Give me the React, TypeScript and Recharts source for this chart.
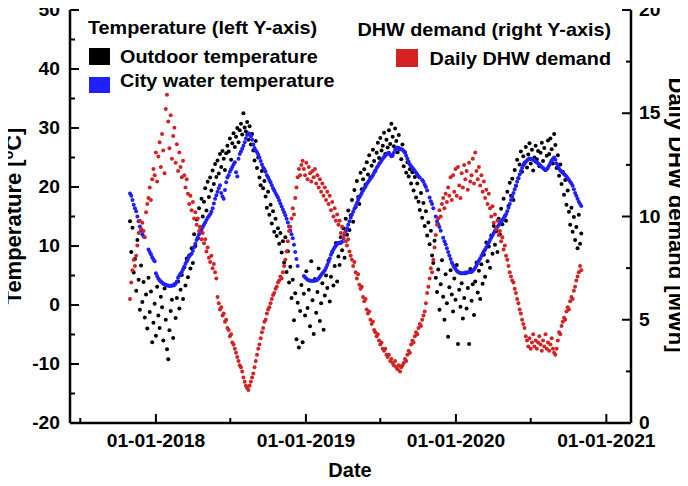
import React from 'react';
import { ScatterChart, Scatter, XAxis, YAxis } from 'recharts';

// Dates: day offsets from 01-01-2018; one reading every 3 days from 30-10-2017
const START_DAY = -63;
const STEP_DAYS = 3;

const outdoorTemp: (number | null)[] = [
  14.2, 9.0, 13.1, 5.5, 7.8, 2.4, 11.0, 4.3, -0.8, 6.7,
  0.5, 3.9, -2.1, 1.8, -4.0, 4.6, -1.2, 2.3, -6.3, -3.0,
  0.2, -5.2, 3.1, -1.8, -3.9, 1.4, -0.4, -6.0, 2.8, -2.5,
  -7.5, -9.2, -4.3, -1.0, 0.9, -5.6, 3.5, -2.2, 1.2, 4.0,
  -0.6, 2.6, 5.1, 1.0, 6.4, 3.3, 7.9, 4.7, 8.4, 6.2,
  9.6, 7.1, 12.0, 10.0, 14.5, 11.3, 16.4, 13.2, 18.0, 15.0,
  17.5, 19.8, 16.0, 20.9, 18.3, 21.6, 19.4, 22.8, 20.5, 23.9,
  21.7, 24.5, 22.3, 25.6, 23.4, 26.1, 24.8, 22.9, 25.7, 27.0,
  26.0, 28.2, 24.6, 27.4, 29.1, 26.8, 28.5, 30.0, 27.6, 29.6,
  30.7, 28.9, 32.5, 30.1, 29.4, 31.0, 28.0, 30.3, 27.2, 29.0,
  26.2, 24.5, 27.8, 23.2, 25.0, 21.6, 20.3, 22.7, 19.8, 21.0,
  18.4, 16.5, 19.2, 15.3, 17.0, 13.8, 15.9, 12.4, 14.6, 11.7,
  13.0, 10.4, 12.2, 8.9, 10.8, 7.2, 11.5, 5.6, 9.1, 3.8,
  6.5, 1.2, 4.3, -2.6, 2.0, -5.8, 0.4, -7.2, -1.0, 3.4,
  -6.3, 1.9, -1.8, 5.7, -0.5, 2.6, -3.6, 7.4, 0.8, -4.9,
  4.4, -1.3, 2.2, 6.2, -2.7, 0.3, 3.7, -4.2, 1.6, 5.0,
  2.9, 7.5, 0.6, 4.8, 9.0, 3.3, 6.6, 10.5, 4.0, 8.2,
  6.8, 11.5, 9.3, 13.0, 8.0, 14.6, 11.9, 16.0, 12.7, 15.2,
  17.8, 14.1, 19.5, 16.6, 21.0, 18.3, 17.1, 22.4, 19.6, 21.3,
  23.0, 20.4, 24.2, 22.1, 25.4, 21.6, 23.6, 26.3, 24.4, 22.7,
  25.8, 27.5, 24.9, 28.3, 26.2, 27.0, 29.2, 25.6, 28.0, 26.7,
  29.6, 27.3, 30.7, 28.5, 26.9, 29.9, 27.8, 25.9, 28.8, 26.4,
  24.7, 27.2, 23.5, 25.9, 22.4, 24.2, 21.8, 23.0, 20.6, 22.5,
  19.4, 21.7, 18.2, 20.6, 17.5, 16.1, 19.0, 14.8, 17.3, 13.4,
  15.9, 11.8, 14.0, 10.3, 12.6, 8.4, 7.1, 10.9, 4.6, 2.2,
  6.0, -0.8, 3.5, 7.6, 1.4, -2.5, 5.2, 0.3, -5.4, 3.0,
  5.9, 1.8, -1.1, 4.5, 0.9, 6.8, -6.6, 2.6, -0.3, 3.7,
  -2.3, 1.2, 5.4, -0.6, 2.9, -6.6, 6.1, 0.7, 3.5, -1.7,
  4.0, 7.2, 2.1, 5.8, 1.0, 6.9, 3.6, 8.5, 4.8, 10.6,
  7.4, 9.9, 6.3, 11.8, 8.7, 13.4, 10.2, 12.5, 9.0, 14.6,
  12.0, 16.3, 13.7, 18.0, 15.1, 14.3, 19.2, 16.8, 20.7, 18.5,
  21.4, 17.8, 22.9, 20.2, 24.6, 21.5, 23.8, 26.0, 22.6, 25.2,
  24.1, 26.8, 23.3, 25.5, 27.4, 24.0, 26.3, 22.8, 25.0, 27.0,
  24.7, 26.1, 23.5, 25.8, 27.5, 24.4, 26.6, 22.9, 25.3, 27.9,
  25.6, 28.2, 26.4, 24.0, 29.0, 27.1, 23.2, 25.4, 21.9, 23.8,
  20.5, 22.6, 18.7, 21.2, 17.0, 19.4, 15.8, 13.6, 16.5, 12.4,
  14.9, 11.0, 13.2, 9.6, 15.3, 10.4, 12.1,
];

const cityWaterTemp: (number | null)[] = [
  18.9, 18.5, 17.8, 17.0, 16.4, 15.9, 15.0, 14.2, 13.3, 12.6,
  12.0, 11.6, null, null, null, 9.4, 9.0, 8.6, 8.1, 7.7,
  7.4, 5.4, 4.9, 4.5, 4.2, 4.0, 3.8, 3.6, 3.5, 3.4,
  3.3, 3.3, 3.2, 3.2, 3.3, 3.3, 3.4, 3.6, 4.0, 4.6,
  5.0, 5.3, 5.6, 6.0, 6.5, 7.0, 7.4, 7.8, 8.2, 8.5,
  8.7, 9.2, 9.8, 10.4, 11.0, 11.5, 12.0, 12.4, 12.8, 13.2,
  13.6, 14.0, 14.4, 14.8, 15.1, 15.4, 15.8, 16.4, 17.2, 18.0,
  18.6, 19.2, 19.8, 20.3, 19.0, 18.4, 18.0, 19.5, 20.8, 21.6,
  22.0, 22.6, 23.0, 23.4, 23.8, 24.2, 22.5, 21.8, 24.8, 25.6,
  26.0, 26.5, 27.0, 27.6, 28.2, 28.8, 29.1, 29.0, 28.6, 28.0,
  27.2, 26.6, 26.2, 25.9, 25.5, 25.0, 24.4, 23.8, 23.3, 23.0,
  22.6, 22.0, 21.6, 21.2, 20.8, 20.3, 19.8, 19.4, 19.0, 18.6,
  18.2, 17.7, 17.2, 16.7, 16.2, 15.7, 15.2, 14.6, 14.0, 13.3,
  12.6, 12.0, 11.3, 10.2, 9.0, 7.8, 6.6, null, null, null,
  null, 4.9, 4.7, 4.5, 4.3, 4.2, 4.1, 4.1, 4.1, 4.1,
  4.1, 4.2, 4.3, 4.5, 4.8, 5.1, 5.4, 5.6, 5.9, 6.3,
  6.8, 7.3, 7.9, 8.5, 9.0, 9.4, 9.8, 10.1, 10.3, 10.5,
  10.6, 10.5, 10.7, 11.3, 12.0, 12.5, 13.0, 13.6, 14.2, 14.8,
  15.3, 15.8, 16.3, 16.8, 17.3, 17.8, 18.2, 18.6, 19.0, 19.4,
  19.8, 20.1, 20.5, 20.8, 21.1, 21.4, 21.7, 22.0, 22.4, 22.8,
  23.2, 23.5, 23.9, 24.2, 24.5, 24.8, 25.1, 25.3, 25.5, 25.7,
  25.8, 25.5, 25.2, 25.3, 25.8, 26.3, 26.6, 26.7, 26.6, 26.5,
  26.4, 26.3, 26.1, 25.8, 25.3, 24.8, 24.3, 23.8, 23.5, 23.2,
  23.0, 22.7, 22.4, 22.1, 21.8, 21.6, null, 21.2, 20.9, 20.4,
  20.0, 19.4, null, 18.2, 17.6, 17.1, 16.4, null, 15.0, 14.2,
  13.7, 13.2, 12.6, null, 11.4, 10.8, 10.3, 9.6, 9.0, 8.4,
  7.8, 7.2, 6.8, 6.4, 6.1, 5.8, 5.6, 5.5, 5.4, 5.4,
  5.4, 5.4, 5.5, 5.5, 5.5, 5.6, 5.6, 5.6, 5.8, 6.0,
  6.3, 6.7, 7.1, 7.5, 7.9, 8.3, 8.7, 9.1, 9.4, 9.8,
  10.2, 10.6, 11.0, 11.4, 11.8, 12.2, 12.6, 12.9, 13.2, 13.5,
  13.8, 14.1, 14.4, 14.7, 15.0, 15.4, 15.9, 16.5, 17.1, 17.8,
  18.4, 19.0, 19.6, 20.2, 20.9, 21.5, 22.1, 22.7, 23.2, 23.7,
  24.0, 24.3, 24.5, 24.7, 24.8, 24.8, 24.7, 24.6, 24.5, 24.3,
  24.2, 24.0, 23.8, 23.6, 23.4, 23.2, 23.0, 22.9, 23.0, 23.3,
  23.7, 24.1, 24.5, 24.8, 25.0, 24.6, 24.0, 23.5, 23.1, 22.8,
  22.6, 22.4, 22.2, 22.0, 21.8, 21.5, 21.2, 20.9, 20.6, 20.2,
  19.6, 19.0, 18.5, 18.0, 17.5, 17.1, 16.8,
];

const dhwDemand: (number | null)[] = [
  6.0, 6.8, 7.4, 7.9, 7.6, 8.1, 8.6, 9.2, 9.8, 9.4,
  9.7, 9.3, 9.0, 10.2, 10.6, 10.9, 11.4, 10.8, 11.8, 12.3,
  12.0, 13.1, 11.7, 12.9, 13.6, 12.4, 14.0, 13.2, 12.1, 15.2,
  15.9, 14.6, 13.3, 14.9, 12.8, 13.9, 14.3, 12.6, 13.5, 12.2,
  13.1, 12.4, 11.9, 12.7, 12.0, 11.4, 11.8, 11.1, 10.6, 11.0,
  10.3, 10.7, 9.9, 10.2, 9.6, 9.9, 9.3, 9.5, 8.9, 9.2,
  8.7, 8.9, 8.3, 8.5, 8.0, 7.8, 8.1, 7.5, 7.7, 7.3,
  7.0, 6.1, 5.8, 5.5, 5.6, 5.2, 5.3, 4.9, 5.0, 4.6,
  4.5, 4.2, 4.3, 3.9, 3.8, 3.6, 3.4, 3.2, 3.0, 2.8,
  2.7, 2.5, 2.2, 2.0, 1.8, 1.7, 1.6, 1.8, 2.0, 2.2,
  2.4, 2.7, 3.0, 3.3, 3.6, 3.8, 4.1, 4.4, 4.6, 4.9,
  5.0, 5.3, 5.5, 5.6, 5.8, 6.0, 6.2, 6.3, 6.5, 6.6,
  6.8, 6.9, 7.1, 7.0, 7.3, 7.6, 7.9, 8.3, 8.8, 9.3,
  9.5, 9.9, 10.4, 10.1, 10.9, 11.4, 11.9, 12.3, 12.0, 12.5,
  12.7, 12.3, 12.0, 12.6, 11.8, 12.4, 12.1, 11.7, 12.2, 11.9,
  12.3, 11.6, 12.0, 11.4, 11.8, 11.2, 11.6, 11.0, 11.4, 10.8,
  11.2, 10.6, 11.0, 10.3, 10.7, 10.0, 10.4, 9.8, 10.1, 9.6,
  9.8, 9.2, 9.5, 9.0, 9.2, 8.8, 8.6, 8.9, 8.3, 8.1,
  7.9, 7.6, 7.8, 7.3, 7.0, 7.2, 6.7, 6.5, 6.6, 6.1,
  5.9, 6.0, 5.5, 5.3, 5.4, 5.0, 4.8, 4.9, 4.5, 4.4,
  4.2, 4.3, 4.0, 3.8, 3.9, 3.6, 3.5, 3.6, 3.3, 3.2,
  3.3, 3.0, 3.1, 2.9, 2.8, 3.0, 2.7, 2.6, 2.8, 2.5,
  2.7, 2.8, 2.9, 3.1, 3.0, 3.3, 3.5, 3.4, 3.8, 4.0,
  3.9, 4.2, 4.4, 4.3, 4.6, 4.8, 4.7, 5.0, 5.2, 5.4,
  5.8, 6.3, 6.6, 7.0, 7.5, 7.3, 7.9, 8.5, 9.1, 9.6,
  9.9, 10.3, 10.0, 10.6, 10.9, 10.4, 11.1, 10.7, 11.4, 11.0,
  11.9, 10.8, 12.0, 11.2, 12.3, 11.0, 12.4, 11.5, 10.9, 12.1,
  11.4, 12.5, 11.8, 12.2, 11.3, 12.6, 11.7, 12.0, 12.8, 11.6,
  13.1, 12.2, 11.8, 12.4, 11.5, 12.0, 11.2, 11.7, 10.9, 11.3,
  10.6, 11.1, 10.4, 10.0, 10.5, 9.7, 10.1, 9.4, 9.8, 9.1,
  9.3, 8.8, 9.0, 8.4, 8.6, 8.1, 7.9, 7.6, 7.3, 7.1,
  6.9, 6.8, 6.5, 6.3, 6.0, 5.8, 5.5, 5.3, 5.0, 4.8,
  4.6, 4.2, 4.0, 3.7, 4.1, 3.6, 3.9, 4.3, 3.7, 4.0,
  3.6, 3.9, 4.2, 3.8, 3.5, 4.0, 3.7, 4.3, 3.6, 3.9,
  3.5, 3.8, 4.1, 3.6, 3.4, 3.3, 3.6, 4.0, 4.4, 4.3,
  4.7, 4.9, 5.1, 5.0, 5.4, 5.6, 5.5, 5.9, 6.1, 6.0,
  6.4, 6.6, 6.9, 7.1, 7.3, 7.6, 7.4,
];

// Axis ticks (days from 01-01-2018), labels
const xTicks = [-184, 0, 181, 365, 546, 730, 912, 1096];
const xTickLabels: Record<number, string> = {
  0: '01-01-2018',
  365: '01-01-2019',
  730: '01-01-2020',
  1096: '01-01-2021',
};
const tempTicks = [-20, -15, -10, -5, 0, 5, 10, 15, 20, 25, 30, 35, 40, 45, 50];
const dhwTicks = [0, 2.5, 5, 7.5, 10, 12.5, 15, 17.5, 20];

const X_DOMAIN: [number, number] = [-209, 1156];

const COLOR_OUTDOOR = '#000000';
const COLOR_CITY = '#1f1fff';
const COLOR_DHW = '#d42222';
const FONT = '"Liberation Sans", Arial, Helvetica, sans-serif';

const toPoints = (vals: (number | null)[]) =>
  vals
    .map((v, i) => (v == null ? null : { d: START_DAY + i * STEP_DAYS, v }))
    .filter((p): p is { d: number; v: number } => p !== null);

const outdoorData = toPoints(outdoorTemp);
const cityData = toPoints(cityWaterTemp);
const dhwData = toPoints(dhwDemand);

const makeDot = (color: string) => (p: any) =>
  p == null || p.cx == null ? <g /> : <circle cx={p.cx} cy={p.cy} r={2} fill={color} />;

const labelStyle = { fontFamily: FONT, fontWeight: 700, fontSize: 17.5, fill: '#000' } as const;

const BottomTick = (props: any) => {
  const { x, y, payload } = props;
  const label = xTickLabels[payload.value];
  const major = label !== undefined;
  return (
    <g>
      <line x1={x} x2={x} y1={y} y2={y - (major ? 9 : 5)} stroke="#000" strokeWidth={2} />
      {major && (
        <text transform={`translate(${x},${y + 24}) scale(1.1,1)`} textAnchor="middle" {...labelStyle}>
          {label}
        </text>
      )}
    </g>
  );
};

const TopTick = (props: any) => {
  const { x, y, payload } = props;
  const major = xTickLabels[payload.value] !== undefined;
  return <line x1={x} x2={x} y1={y} y2={y + (major ? 9 : 5)} stroke="#000" strokeWidth={2} />;
};

const LeftTick = (props: any) => {
  const { x, y, payload } = props;
  const v = payload.value as number;
  const major = v % 10 === 0;
  return (
    <g>
      <line x1={x} x2={x + (major ? 9 : 5)} y1={y} y2={y} stroke="#000" strokeWidth={2} />
      {major && (
        <text transform={`translate(${x - 10},${y + 6}) scale(1.1,1)`} textAnchor="end" {...labelStyle}>
          {v}
        </text>
      )}
    </g>
  );
};

const RightTick = (props: any) => {
  const { x, y, payload } = props;
  const v = payload.value as number;
  const major = v % 5 === 0;
  return (
    <g>
      <line x1={x} x2={x - (major ? 9 : 5)} y1={y} y2={y} stroke="#000" strokeWidth={2} />
      {major && (
        <text transform={`translate(${x + 8},${y + 6}) scale(1.1,1)`} textAnchor="start" {...labelStyle}>
          {v}
        </text>
      )}
    </g>
  );
};

const axisLine = { stroke: '#000', strokeWidth: 2.5 };
const legendText = { fontFamily: FONT, fontWeight: 700, fontSize: 18, fill: '#000' } as const;
const titleText = { fontFamily: FONT, fontWeight: 700, fill: '#000' } as const;

export default function App() {
  return (
    <div style={{ position: 'relative', width: 688, height: 486, margin: -8 }}>
      <ScatterChart width={688} height={486} margin={{ top: 10, right: 2, bottom: 13, left: 10 }}>
        <XAxis
          xAxisId="bottom"
          dataKey="d"
          type="number"
          domain={X_DOMAIN}
          ticks={xTicks}
          interval={0}
          tick={<BottomTick />}
          tickLine={false}
          tickSize={0}
          tickMargin={0}
          axisLine={axisLine}
          height={50}
          allowDataOverflow
        />
        <XAxis
          xAxisId="top"
          orientation="top"
          dataKey="d"
          type="number"
          domain={X_DOMAIN}
          ticks={xTicks}
          interval={0}
          tick={<TopTick />}
          tickLine={false}
          tickSize={0}
          tickMargin={0}
          axisLine={axisLine}
          height={0}
          allowDataOverflow
        />
        <YAxis
          yAxisId="T"
          dataKey="v"
          type="number"
          domain={[-20, 50]}
          ticks={tempTicks}
          interval={0}
          tick={<LeftTick />}
          tickLine={false}
          tickSize={0}
          tickMargin={0}
          axisLine={axisLine}
          width={60}
          allowDataOverflow
        />
        <YAxis
          yAxisId="D"
          orientation="right"
          dataKey="v"
          type="number"
          domain={[0, 20]}
          ticks={dhwTicks}
          interval={0}
          tick={<RightTick />}
          tickLine={false}
          tickSize={0}
          tickMargin={0}
          axisLine={axisLine}
          width={55}
          allowDataOverflow
        />
        <Scatter
          name="Outdoor temperature"
          data={outdoorData}
          xAxisId="bottom"
          yAxisId="T"
          fill={COLOR_OUTDOOR}
          shape={makeDot(COLOR_OUTDOOR)}
          isAnimationActive={false}
        />
        <Scatter
          name="City water temperature"
          data={cityData}
          xAxisId="bottom"
          yAxisId="T"
          fill={COLOR_CITY}
          shape={makeDot(COLOR_CITY)}
          isAnimationActive={false}
        />
        <Scatter
          name="Daily DHW demand"
          data={dhwData}
          xAxisId="bottom"
          yAxisId="D"
          fill={COLOR_DHW}
          shape={makeDot(COLOR_DHW)}
          isAnimationActive={false}
        />
      </ScatterChart>
      <svg
        width={688}
        height={486}
        style={{ position: 'absolute', left: 0, top: 0, pointerEvents: 'none' }}
      >
        {/* Axis titles */}
        <text transform="translate(21,216) rotate(-90)" textAnchor="middle" fontSize={22} {...titleText}>
          Temperature [<tspan dy={-8} fontSize={14}>o</tspan>
          <tspan dy={8}>C]</tspan>
        </text>
        <text transform="translate(669,215) rotate(90)" textAnchor="middle" fontSize={22} {...titleText}>
          Daily DHW demand [MWh]
        </text>
        <text x={350} y={477} textAnchor="middle" fontSize={20} {...titleText}>
          Date
        </text>

        {/* Left legend */}
        <text transform="translate(88,34) scale(1.1,1)" {...legendText}>Temperature (left Y-axis)</text>
        <rect x={89} y={48} width={21} height={17} fill={COLOR_OUTDOOR} />
        <text transform="translate(120,63) scale(1.1,1)" {...legendText}>Outdoor temperature</text>
        <rect x={89} y={77} width={21} height={16} fill={COLOR_CITY} />
        <text transform="translate(120,87) scale(1.1,1)" {...legendText}>City water temperature</text>

        {/* Right legend */}
        <text transform="translate(611,36) scale(1.1,1)" textAnchor="end" {...legendText}>DHW demand (right Y-axis)</text>
        <rect x={396} y={49} width={22} height={18} fill={COLOR_DHW} />
        <text transform="translate(611,65) scale(1.1,1)" textAnchor="end" {...legendText}>Daily DHW demand</text>
      </svg>
    </div>
  );
}
